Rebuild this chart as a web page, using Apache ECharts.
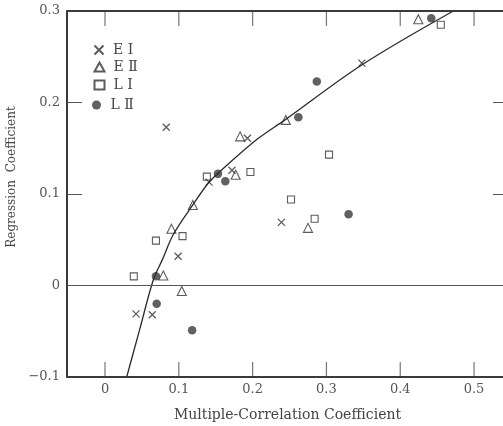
<!DOCTYPE html>
<html>
<head>
<meta charset="utf-8">
<script src="https://cdn.jsdelivr.net/npm/echarts@6/dist/echarts.min.js"></script>
<style>
html,body{margin:0;padding:0;background:#fff;}
#chart{width:503px;height:426px;}
</style>
</head>
<body>
<div id="chart"></div>
<script>
// ---- data ----
const seriesNames = ['E Ⅰ', 'E Ⅱ', 'L Ⅰ', 'L Ⅱ'];
const dataE1 = [[0.042,-0.031],[0.064,-0.032],[0.099,0.032],[0.083,0.173],[0.141,0.113],[0.172,0.126],[0.193,0.161],[0.239,0.069],[0.348,0.243]];
const dataE2 = [[0.079,0.011],[0.104,-0.006],[0.090,0.062],[0.119,0.088],[0.177,0.121],[0.183,0.163],[0.245,0.181],[0.275,0.063],[0.4245,0.291]];
const dataL1 = [[0.039,0.010],[0.069,0.049],[0.105,0.054],[0.138,0.119],[0.197,0.124],[0.252,0.094],[0.284,0.073],[0.3035,0.143],[0.455,0.285]];
const dataL2 = [[0.069,0.010],[0.070,-0.020],[0.118,-0.049],[0.153,0.122],[0.163,0.114],[0.262,0.184],[0.287,0.223],[0.330,0.078],[0.442,0.292]];
const curveData = [[0.0294,-0.100],[0.047,-0.048],[0.0654,0.006],[0.0776,0.028],[0.0927,0.056],[0.1189,0.088],[0.140,0.112],[0.1536,0.123],[0.2064,0.160],[0.2439,0.181],[0.3478,0.241],[0.472,0.300]];
const xTicks = [0, 0.1, 0.2, 0.3, 0.4, 0.5];
const xTickLabels = ['0', '0.1', '0.2', '0.3', '0.4', '0.5'];
const yTicks = [-0.1, 0, 0.1, 0.2, 0.3];
const yTickLabels = ['−0.1', '0', '0.1', '0.2', '0.3'];
const xName = 'Multiple-Correlation Coefficient';
const yName = 'Regression  Coefficient';

// ---- chart ----
const FONT = '"DejaVu Serif", "Liberation Serif", serif';
const INK = '#333';
const GREY = '#555';
const xMin = -0.0515, xMax = 0.546, yMin = -0.1, yMax = 0.3;
const GRID = {left: 67, top: 11, width: 441, height: 366};
const TICK_PX = 15;
const xTickLen = TICK_PX * (xMax - xMin) / GRID.width;
function lab(ticks, labels) {
  return v => {
    for (let i = 0; i < ticks.length; i++) if (Math.abs(ticks[i] - v) < 1e-6) return labels[i];
    return '';
  };
}
// inward ticks on the left and right sides (data units at the tick values)
const sideTicks = [];
yTicks.filter(v => v > yMin && v < yMax).forEach(v => {
  sideTicks.push([{coord: [xMin, v]}, {coord: [xMin + xTickLen, v]}]);
  sideTicks.push([{coord: [xMax, v]}, {coord: [xMax - xTickLen, v]}]);
});
const frameLines = [
  {yAxis: yMin, lineStyle: {color: '#3a3a3a', width: 1.8}},
  {yAxis: yMax, lineStyle: {color: '#3a3a3a', width: 2}}
];
// inward ticks on the bottom and top sides, drawn as thin bar symbols at the tick values
const bottomTickPts = xTicks.map(t => [t, yMin]);
const topTickPts = xTicks.map(t => [t, yMax]);
function tickSeries(pts, dir) {
  return {
    type: 'scatter', data: pts, silent: true, clip: false, z: 1,
    symbol: 'rect', symbolSize: [1.2, TICK_PX], symbolOffset: [0, dir * TICK_PX / 2],
    itemStyle: {color: GREY}, emphasis: {disabled: true}, tooltip: {show: false}
  };
}

const chart = echarts.init(document.getElementById('chart'), null, {renderer: 'canvas'});
const hollow = {color: 'none', borderColor: INK, borderWidth: 1.1};
const legendRows = [50, 67, 85, 105];
const option = {
  animation: false,
  backgroundColor: '#fff',
  grid: Object.assign({outerBoundsMode: 'none', containLabel: false}, GRID),
  legend: seriesNames.map((n, i) => ({
    data: [n], orient: 'vertical', left: 92, top: legendRows[i] - 7, padding: 0,
    itemWidth: 10, itemHeight: 9, itemGap: 0, selectedMode: false,
    textStyle: {fontFamily: FONT, fontSize: 14, color: '#444', lineHeight: 14, padding: [0, 0, 0, 4]}
  })),
  xAxis: [
    {
      type: 'value', position: 'bottom', min: xMin, max: xMax,
      axisLine: {show: true, onZero: false},
      axisTick: {show: false},
      axisLabel: {show: true, customValues: xTicks, formatter: lab(xTicks, xTickLabels), margin: 6,
        fontFamily: FONT, fontSize: 13, color: GREY},
      splitLine: {show: false},
      name: xName, nameLocation: 'middle', nameGap: 31,
      nameTextStyle: {fontFamily: FONT, fontSize: 14, color: '#444'}
    },
    {
      type: 'value', position: 'top', min: xMin, max: xMax,
      axisLine: {show: true, onZero: false},
      axisTick: {show: false}, axisLabel: {show: false}, splitLine: {show: false}
    }
  ],
  yAxis: [
    {
      type: 'value', position: 'left', min: yMin, max: yMax, interval: 0.1,
      axisLine: {show: true, onZero: false, lineStyle: {color: '#3a3a3a', width: 2}},
      axisTick: {show: false},
      axisLabel: {formatter: lab(yTicks, yTickLabels), margin: 7, fontFamily: FONT, fontSize: 13, color: GREY},
      splitLine: {show: false},
      name: yName, nameLocation: 'middle', nameGap: 48, nameRotate: 90,
      nameTextStyle: {fontFamily: FONT, fontSize: 12, color: '#444', padding: [0, 0, 0, 34]}
    },
    {
      type: 'value', position: 'right', min: yMin, max: yMax, interval: 0.1,
      axisLine: {show: true, onZero: false, lineStyle: {color: '#3a3a3a', width: 1.5}},
      axisTick: {show: false}, axisLabel: {show: false}, splitLine: {show: false}
    }
  ],
  series: [
    {
      name: 'curve', type: 'line', data: curveData, smooth: 0.35,
      showSymbol: false, symbol: 'none', silent: true, clip: false,
      lineStyle: {color: '#2a2a2a', width: 1.3},
      markLine: {
        silent: true, animation: false, symbol: ['none', 'none'], label: {show: false},
        lineStyle: {color: GREY, width: 1, type: 'solid'},
        emphasis: {disabled: true},
        data: [{yAxis: 0}].concat(frameLines, sideTicks)
      }
    },
    tickSeries(bottomTickPts, -1),
    tickSeries(topTickPts, 1),
    {
      name: seriesNames[0], type: 'scatter', data: dataE1,
      symbol: 'path://M0,0L10,10M10,0L0,10', symbolSize: 7,
      itemStyle: {color: 'none', borderColor: INK, borderWidth: 1.3}
    },
    {
      name: seriesNames[1], type: 'scatter', data: dataE2,
      symbol: 'triangle', symbolSize: 9, itemStyle: hollow
    },
    {
      name: seriesNames[2], type: 'scatter', data: dataL1,
      symbol: 'rect', symbolSize: 7, itemStyle: hollow
    },
    {
      name: seriesNames[3], type: 'scatter', data: dataL2,
      symbol: 'circle', symbolSize: 8.5, itemStyle: {color: '#3a3a3a'}
    }
  ]
};
chart.setOption(option);
</script>
</body>
</html>
